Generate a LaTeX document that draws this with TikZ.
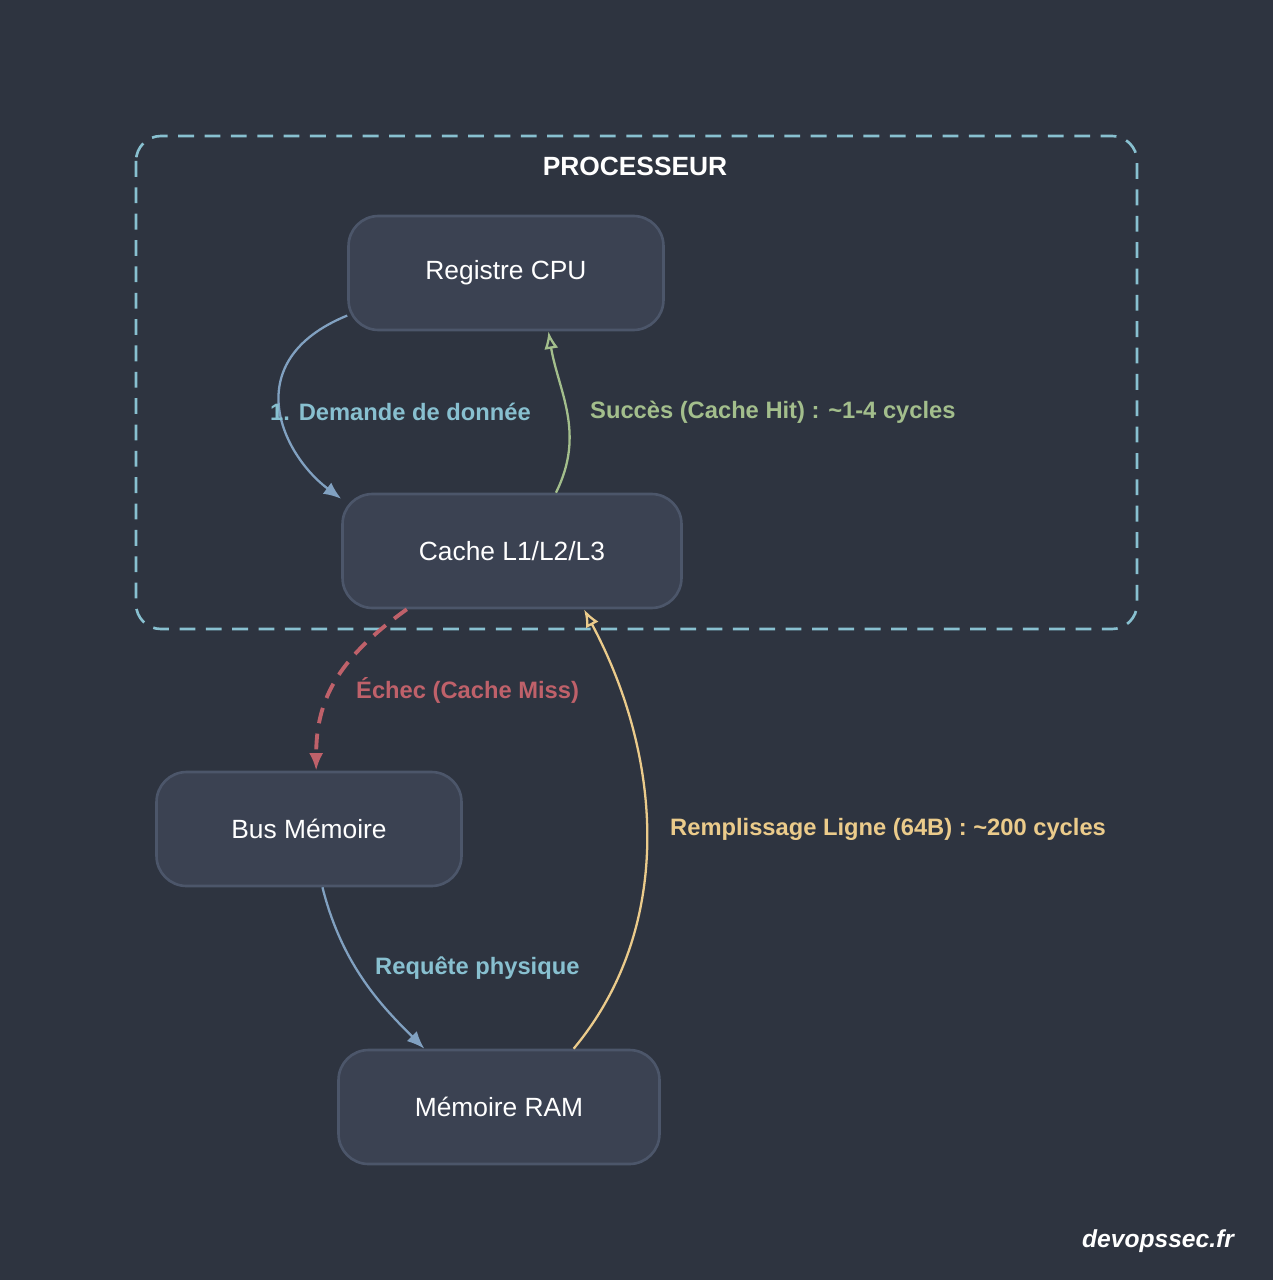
\documentclass[tikz,border=0pt]{standalone}
\usepackage{fontspec}
\setmainfont{Liberation Sans}
\usetikzlibrary{arrows.meta}
\definecolor{bg}{HTML}{2E3440}
\definecolor{boxfill}{HTML}{3B4252}
\definecolor{boxline}{HTML}{4C566A}
\definecolor{frost}{HTML}{88C0D0}
\definecolor{bluel}{HTML}{81A1C1}
\definecolor{greenl}{HTML}{A3BE8C}
\definecolor{redl}{HTML}{BF616A}
\definecolor{yellowl}{HTML}{EBCB8B}
\tikzset{
  box/.style={draw=boxline,line width=1.5pt,fill=boxfill,rounded corners=0.6cm,
    minimum height=2.28cm,text=white,font=\fontsize{15}{18}\selectfont},
  lbl/.style={anchor=west,font=\bfseries\fontsize{13.5}{16}\selectfont},
  edge/.style={line width=1.3pt}
}
\begin{document}
\begin{tikzpicture}[x=0.02cm,y=-0.02cm]
%Hintergrund
  \fill[bg] (0,0) rectangle (1273,1280);
  \useasboundingbox (0,0) rectangle (1273,1280);
%Cluster
  \draw[frost,line width=1.5pt,dash pattern=on 9pt off 6pt,rounded corners=0.5cm]
    (136,136) rectangle (1137,629);
  \node[text=white,font=\bfseries\fontsize{15}{18}\selectfont] (title) at (635,166) {PROCESSEUR};
%Knoten
  \node[box,minimum width=6.3cm] (reg) at (506,273) {Registre CPU};
  \node[box,minimum width=6.78cm] (cache) at (512,551) {Cache L1/L2/L3};
  \node[box,minimum width=6.1cm] (bus) at (309,829) {Bus Mémoire};
  \node[box,minimum width=6.42cm] (ram) at (499,1107) {Mémoire RAM};
%Kanten
  \draw[edge,bluel,-{Latex[length=10pt,width=8pt]}] (reg.195)
    .. controls +(-110,45) and +(-60,-45) .. (cache.163);
  \node[lbl,text=frost] (l1) at (264,412) {1. Demande de donnée};
  \draw[edge,greenl,-{Latex[open,length=10pt,width=8pt]}] (cache.53)
    .. controls +(30,-60) and +(10,60) .. (reg.306);
  \node[lbl,text=greenl] (l2) at (584,412) {Succès (Cache Hit) : \textasciitilde1-4 cycles};
  \draw[edge,redl,line width=2.2pt,dash pattern=on 9pt off 6pt,-{Latex[length=10pt,width=8pt]}] (cache.209)
    .. controls +(-70,50) and +(0,-70) .. (bus.83);
  \node[lbl,text=redl] (l3) at (350,690) {Échec (Cache Miss)};
  \draw[edge,yellowl,-{Latex[open,length=10pt,width=8pt]}] (ram.38)
    .. controls +(100,-120) and +(80,150) .. (cache.321);
  \node[lbl,text=yellowl] (l4) at (664,829) {Remplissage Ligne (64B) : \textasciitilde200 cycles};
  \draw[edge,bluel,-{Latex[length=10pt,width=8pt]}] (bus.283)
    .. controls +(20,80) and +(-40,-40) .. (ram.142);
  \node[lbl,text=frost] (l5) at (369,968) {Requête physique};
%Marke
  \node[text=white,font=\bfseries\itshape\fontsize{14}{16}\selectfont] (mark) at (1158,1241) {devopssec.fr};
\end{tikzpicture}
\end{document}
